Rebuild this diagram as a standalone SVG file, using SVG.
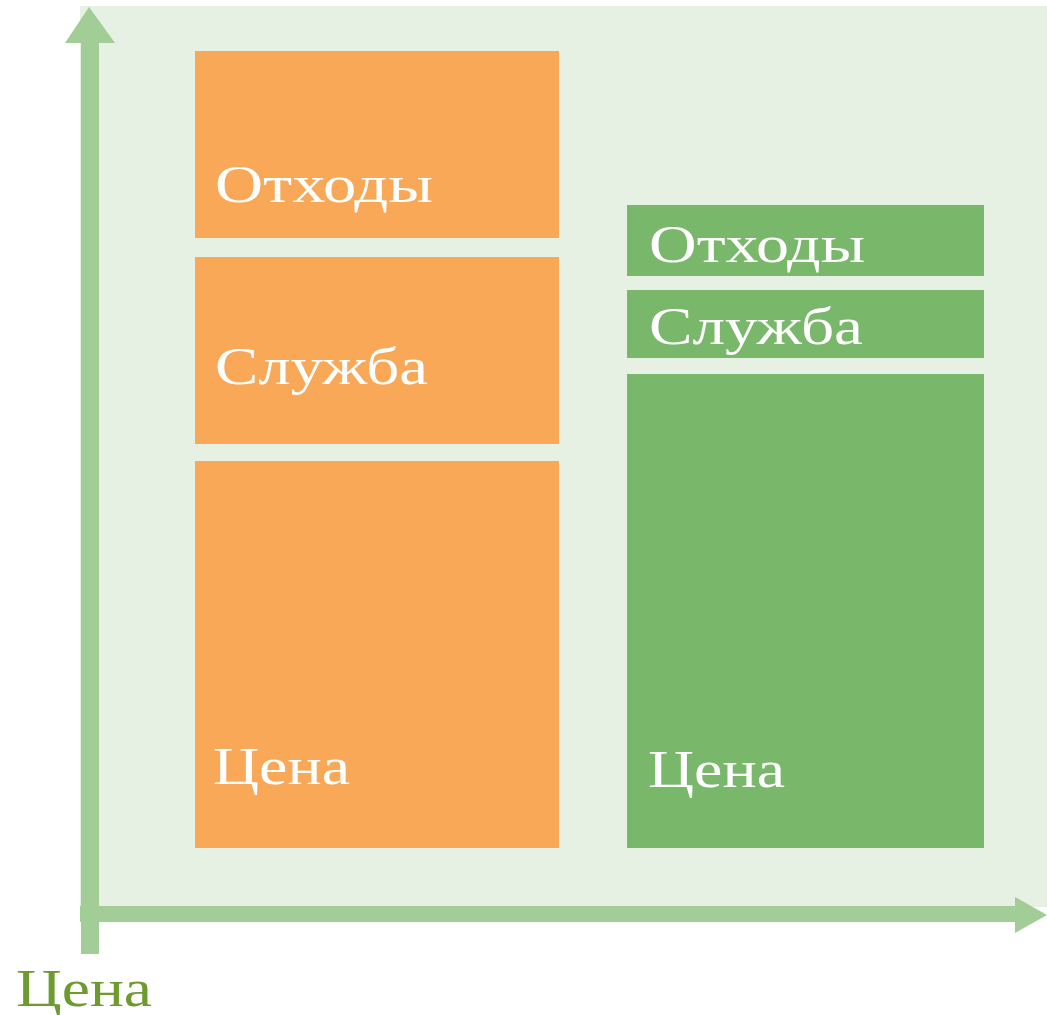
<svg xmlns="http://www.w3.org/2000/svg" width="1047" height="1015" viewBox="0 0 1047 1015">
<style>
.bar-o{fill:#F9A857}
.bar-g{fill:#79B86A}
.lbl{font-family:"Liberation Serif","Times New Roman",serif;font-size:53px;fill:#FFFFFF}
.axis{fill:#A2CD96}
</style>
<rect width="1047" height="1015" fill="#FFFFFF"/>
<rect id="panel" x="80" y="6" width="967" height="901" fill="#E6F0E3"/>
<g id="connectors">
<rect class="axis" x="81" y="42" width="18" height="912"/>
<polygon class="axis" points="89,7 115,43 65,43"/>
<rect class="axis" x="80" y="906" width="936" height="16"/>
<polygon class="axis" points="1015,897 1047,915 1015,933"/>
</g>
<g id="orange-waste"><rect class="bar-o" x="195" y="51" width="364" height="187"/><text class="lbl" x="215" y="202" textLength="218" lengthAdjust="spacingAndGlyphs">Отходы</text></g>
<g id="orange-service"><rect class="bar-o" x="195" y="257" width="364" height="187"/><text class="lbl" x="215" y="384" textLength="213" lengthAdjust="spacingAndGlyphs">Служба</text></g>
<g id="orange-price"><rect class="bar-o" x="195" y="461" width="364" height="387"/><text class="lbl" x="213" y="784" textLength="137" lengthAdjust="spacingAndGlyphs">Цена</text></g>
<g id="green-waste"><rect class="bar-g" x="627" y="205" width="357" height="71"/><text class="lbl" x="649" y="262" textLength="216" lengthAdjust="spacingAndGlyphs">Отходы</text></g>
<g id="green-service"><rect class="bar-g" x="627" y="290" width="357" height="68"/><text class="lbl" x="649" y="344" textLength="214" lengthAdjust="spacingAndGlyphs">Служба</text></g>
<g id="green-price"><rect class="bar-g" x="627" y="374" width="357" height="474"/><text class="lbl" x="648" y="787" textLength="137" lengthAdjust="spacingAndGlyphs">Цена</text></g>
<g id="axis-label"><text x="16" y="1006" font-family="Liberation Serif, Times New Roman, serif" font-size="53" fill="#6E9B30" textLength="136" lengthAdjust="spacingAndGlyphs">Цена</text></g>
</svg>
